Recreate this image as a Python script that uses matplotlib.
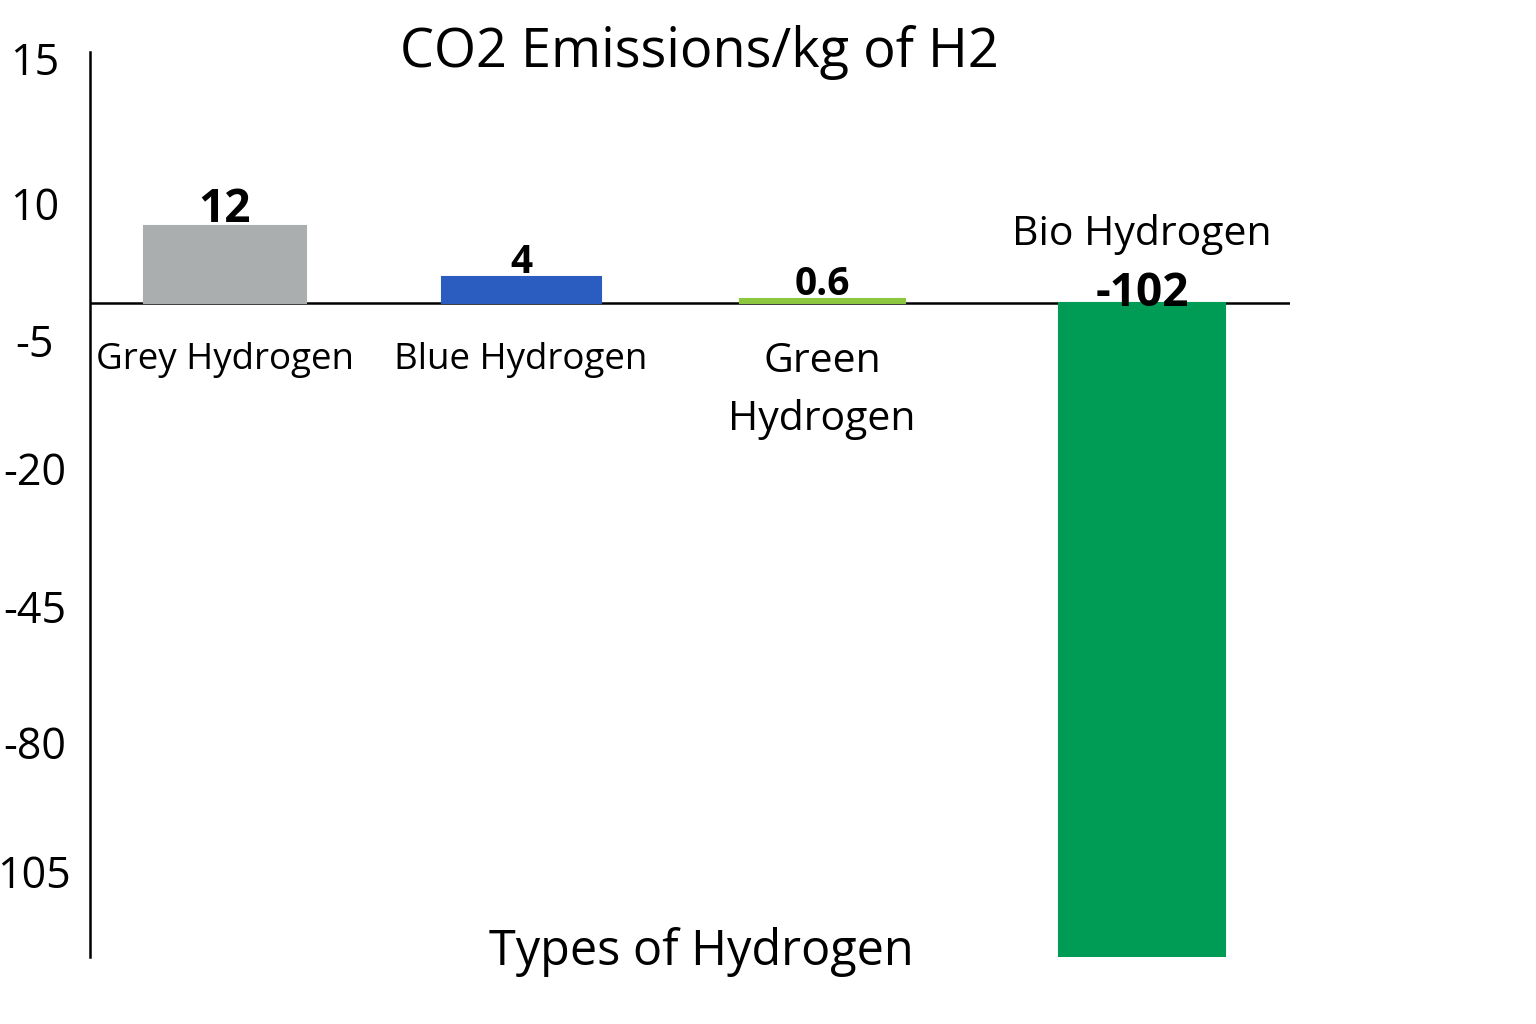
import matplotlib
matplotlib.use("Agg")
import matplotlib.pyplot as plt

# ---- data ----
categories = ["Grey Hydrogen", "Blue Hydrogen", "Green\nHydrogen", "Bio Hydrogen"]
values = [12, 4, 0.6, -102]
value_labels = ["12", "4", "0.6", "-102"]
tick_labels = ["15", "10", "-5", "-20", "-45", "-80", "105"]
title = "CO2 Emissions/kg of H2"
xlabel = "Types of Hydrogen"

# ---- style / layout ----
colors = ["#AAAEAE", "#2B5CBF", "#8DC63F", "#009C55"]
x_pos = [0, 0.987, 1.99, 3.057]
bar_widths = [0.54, 0.53, 0.55, 0.555]
value_fontsizes = [33, 28, 28, 33]
cat_fontsizes = [26.5, 26.5, 29.5, 29.5]
tick_positions = [38.2, 15.5, -5.8, -25.7, -47.3, -68.5, -88.7]
FONT = ["Open Sans", "DejaVu Sans"]
plt.rcParams["font.family"] = FONT

W, H, DPI = 1536, 1024, 100
fig = plt.figure(figsize=(W / DPI, H / DPI), dpi=DPI)
ax = fig.add_axes([90 / W, 1 - 957 / H, (1290 - 90) / W, (957 - 52) / H])

ax.axhline(0, color="black", lw=1.8, zorder=1)
ax.bar(x_pos, values, width=bar_widths, color=colors, zorder=2,
       edgecolor=colors, linewidth=1.5)

ax.set_xlim(-0.45, 3.55)
ax.set_ylim(-102, 39.15)

for s in ["top", "right", "bottom"]:
    ax.spines[s].set_visible(False)
ax.spines["left"].set_linewidth(1.8)
ax.set_xticks([])
ax.set_yticks(tick_positions)
ax.set_yticklabels(tick_labels, fontsize=31)
ax.tick_params(axis="y", length=0, pad=40)
for lab in ax.get_yticklabels():
    lab.set_horizontalalignment("center")

# value labels
for xp, v, lbl, fs in zip(x_pos, values, value_labels, value_fontsizes):
    if v >= 0:
        ax.annotate(lbl, (xp, v), xytext=(0, 3), textcoords="offset points",
                    ha="center", va="baseline", fontsize=fs, fontweight="bold",
                    zorder=3)
    else:
        ax.annotate(lbl, (xp, 0), xytext=(0, -2), textcoords="offset points",
                    ha="center", va="baseline", fontsize=fs, fontweight="bold",
                    zorder=3)

# category labels
for xp, v, cat, fs in zip(x_pos, values, categories, cat_fontsizes):
    if v >= 0:
        ax.annotate(cat, (xp, 0), xytext=(0, -28), textcoords="offset points",
                    ha="center", va="top", fontsize=fs, linespacing=1.55)
    else:
        ax.annotate(cat, (xp, 0), xytext=(0, 42), textcoords="offset points",
                    ha="center", va="baseline", fontsize=fs)

fig.text(699 / W, 1 - 67 / H, title, ha="center", va="baseline", fontsize=39)
fig.text(701 / W, 1 - 965 / H, xlabel, ha="center", va="baseline", fontsize=35)

fig.savefig("out.png", dpi=DPI, facecolor="white")
